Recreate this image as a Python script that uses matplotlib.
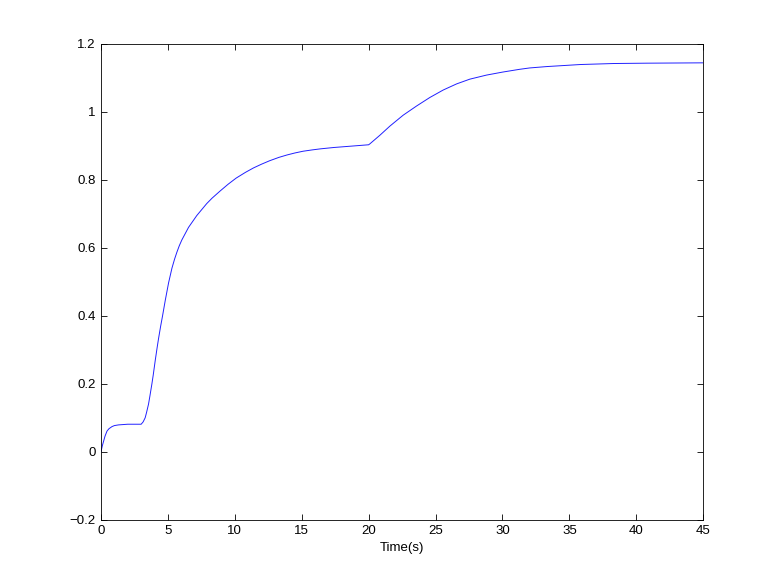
import matplotlib
matplotlib.use("Agg")
import matplotlib.pyplot as plt

# ── data ────────────────────────────────────────────────────
time_s = [0, 0.1, 0.2, 0.3, 0.45, 0.6, 0.82, 1.0, 1.3, 2.0, 3.0, 3.15,
          3.3, 3.4, 3.55, 3.65, 3.8, 3.9, 4.05, 4.2, 4.3, 4.45, 4.6, 4.8,
          5.05, 5.3, 5.5, 5.67, 5.85, 6.04, 6.54, 7.16, 7.9, 8.3, 8.9, 9.5,
          10.1, 10.8, 11.4, 12.0, 12.6, 13.3, 13.9, 14.5, 15.1, 15.8, 16.4,
          17.4, 18.7, 20.0, 20.1, 20.84, 21.59, 22.58, 23.58, 24.57, 25.57,
          26.57, 27.56, 28.81, 30.04, 31.29, 32.04, 33.3, 35.8, 38.3, 40.8,
          45.0]
response = [0, 0.018, 0.032, 0.046, 0.061, 0.068, 0.074, 0.077, 0.079,
            0.081, 0.081, 0.088, 0.100, 0.115, 0.140, 0.163, 0.199, 0.225,
            0.268, 0.308, 0.333, 0.368, 0.400, 0.445, 0.497, 0.540, 0.567,
            0.587, 0.606, 0.623, 0.660, 0.695, 0.730, 0.746, 0.767, 0.787,
            0.805, 0.822, 0.835, 0.846, 0.856, 0.866, 0.873, 0.879, 0.884,
            0.888, 0.891, 0.895, 0.899, 0.903, 0.906, 0.931, 0.958, 0.990,
            1.017, 1.042, 1.064, 1.082, 1.096, 1.108, 1.117, 1.125, 1.129,
            1.133, 1.139, 1.142, 1.143, 1.144]

x_ticks = [0, 5, 10, 15, 20, 25, 30, 35, 40, 45]
y_ticks = [-0.2, 0, 0.2, 0.4, 0.6, 0.8, 1.0, 1.2]
y_tick_labels = ["\u22120.2", "0", "0.2", "0.4", "0.6", "0.8", "1", "1.2"]

plt.rcParams["font.family"] = ["Liberation Sans", "DejaVu Sans"]

fig = plt.figure(figsize=(7.77, 5.84), dpi=100)
ax = fig.add_axes([0.13, 0.11, 0.775, 0.815])

ax.plot(time_s, response, color="#2020ff", linewidth=0.7)

ax.set_xlim(0, 45)
ax.set_ylim(-0.2, 1.2)
ax.set_xticks(x_ticks)
ax.set_yticks(y_ticks)
ax.set_yticklabels(y_tick_labels)
ax.set_xlabel("Time(s)", fontsize=9.5, labelpad=3.5)

ax.tick_params(direction="in", length=4, width=0.6, top=True, right=True,
               labelsize=9.5, pad=4)
for spine in ax.spines.values():
    spine.set_linewidth(0.6)

fig.savefig("out.png", dpi=100)
